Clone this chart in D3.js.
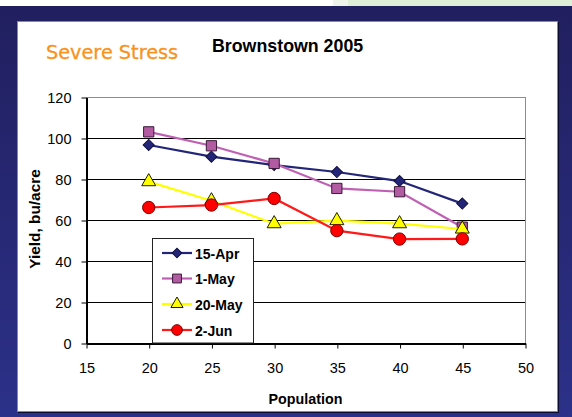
<!DOCTYPE html>
<html><head><meta charset="utf-8">
<script src="https://cdn.jsdelivr.net/npm/d3@7/dist/d3.min.js"></script>
<style>html,body{margin:0;padding:0;background:#fff;}svg{display:block;}</style>
</head><body>
<script>
const populations = [20, 25, 30, 35, 40, 45];
const seriesNames = ["15-Apr", "1-May", "20-May", "2-Jun"];
const apr15 = [96.6, 90.9, 86.8, 83.4, 79.0, 68.0];
const may1 = [103.0, 96.2, 87.6, 75.4, 73.8, 56.5];
const may20 = [78.7, 69.4, 58.2, 59.7, 58.2, 55.6];
const jun2 = [66.1, 67.3, 70.5, 54.8, 50.7, 50.8];
const xTicks = [15, 20, 25, 30, 35, 40, 45, 50];
const yTicks = [0, 20, 40, 60, 80, 100, 120];
const titleText = "Brownstown 2005";
const slideTitle = "Severe Stress";
const xLabel = "Population";
const yLabel = "Yield, bu/acre";

const W = 572, H = 417;
const svg = d3.select("body").append("svg").attr("width", W).attr("height", H);
const defs = svg.append("defs");
const grad = defs.append("linearGradient").attr("id","bg").attr("x1",0).attr("y1",0).attr("x2",0).attr("y2",1);
grad.append("stop").attr("offset","0%").attr("stop-color","#211f5f");
grad.append("stop").attr("offset","100%").attr("stop-color","#2c3189");

// page background
svg.append("rect").attr("x",0).attr("y",0).attr("width",W).attr("height",H).attr("fill","#fff");
svg.append("rect").attr("x",333).attr("y",0).attr("width",15).attr("height",6).attr("fill","#eef4ea");
svg.append("rect").attr("x",348).attr("y",0).attr("width",W-348).attr("height",6).attr("fill","#dfeed6");
svg.append("rect").attr("x",0).attr("y",6).attr("width",W).attr("height",H-6).attr("fill","url(#bg)");
// panel shadow and panel
svg.append("rect").attr("x",18).attr("y",22).attr("width",541).attr("height",391).attr("fill","#0c0c30");
svg.append("rect").attr("x",17.5).attr("y",21.5).attr("width",540).attr("height",390).attr("fill","#fff").attr("stroke","#8a8a8a").attr("stroke-width",1);

svg.append("text").attr("x",46).attr("y",59).attr("fill","#f7931e")
  .attr("font-family","'DejaVu Sans', sans-serif").attr("font-size",19.3).attr("stroke","#f7931e").attr("stroke-width",0.3).text(slideTitle);
svg.append("text").attr("x",212).attr("y",51.5).attr("fill","#000")
  .attr("font-family","'Liberation Sans', Arial, sans-serif").attr("font-weight","bold").attr("font-size",17.8).text(titleText);

const x = d3.scaleLinear().domain([15,50]).range([86,525]);
const y = d3.scaleLinear().domain([0,120]).range([343,97]);

const g = svg.append("g");
// gridlines
g.selectAll(".grid").data(yTicks.filter(v=>v>0 && v<120)).enter().append("line")
  .attr("x1",x(15)).attr("x2",x(50)).attr("y1",d=>y(d)+0.5).attr("y2",d=>y(d)+0.5)
  .attr("stroke","#000").attr("stroke-width",1);
// top & right border gray
g.append("line").attr("x1",x(15)).attr("x2",x(50)).attr("y1",y(120)+0.5).attr("y2",y(120)+0.5).attr("stroke","#8c8c8c");
g.append("line").attr("x1",x(50)+0.5).attr("x2",x(50)+0.5).attr("y1",y(120)).attr("y2",y(0)).attr("stroke","#8c8c8c");

const font = "'Liberation Sans', Arial, sans-serif";
const yAxis = d3.axisLeft(y).tickValues(yTicks).tickSize(5).tickSizeOuter(0).tickPadding(10);
const ya = svg.append("g").attr("transform",`translate(${x(15)+0.5},0.5)`).call(yAxis);
ya.select(".domain").attr("stroke","#000").attr("stroke-width",2);
ya.selectAll(".tick line").attr("stroke","#000");
ya.selectAll(".tick text").attr("font-family",font).attr("font-size",14.5).attr("fill","#000");

const xAxis = d3.axisBottom(x).tickValues(xTicks).tickSize(5).tickSizeOuter(0).tickPadding(14);
const xa = svg.append("g").attr("transform",`translate(0.5,${y(0)+0.5})`).call(xAxis);
xa.select(".domain").attr("stroke","#000").attr("stroke-width",2);
xa.selectAll(".tick line").attr("stroke","#000");
xa.selectAll(".tick text").attr("font-family",font).attr("font-size",14.5).attr("fill","#000");

svg.append("text").attr("x",(x(15)+x(50))/2).attr("y",404).attr("text-anchor","middle")
  .attr("font-family",font).attr("font-weight","bold").attr("font-size",14.3).text(xLabel);
svg.append("text").attr("transform","translate(40,219) rotate(-90) scale(1.1,1)").attr("text-anchor","middle")
  .attr("font-family",font).attr("font-weight","bold").attr("font-size",14).text(yLabel);

const series = [
  {name:seriesNames[0], vals:apr15, line:"#232678", fill:"#232678", stroke:"#111140", shape:d3.symbolSquare, rot:45, size:62},
  {name:seriesNames[1], vals:may1, line:"#c060b4", fill:"#b25aa2", stroke:"#3a1a3a", shape:d3.symbolSquare, rot:0, size:105},
  {name:seriesNames[2], vals:may20, line:"#ffff00", fill:"#ffff00", stroke:"#202000", shape:d3.symbolTriangle, rot:0, size:85},
  {name:seriesNames[3], vals:jun2, line:"#ff1a1a", fill:"#ff0000", stroke:"#7a0000", shape:d3.symbolCircle, rot:0, size:120}
];
const lineGen = d3.line().x(d=>x(d[0])).y(d=>y(d[1]));
series.forEach(s=>{
  const pts = populations.map((p,i)=>[p, s.vals[i]]);
  svg.append("path").attr("d",lineGen(pts)).attr("fill","none").attr("stroke",s.line).attr("stroke-width",2.2);
  svg.selectAll(null).data(pts).enter().append("path")
    .attr("d",d3.symbol().type(s.shape).size(s.size))
    .attr("transform",d=>`translate(${x(d[0])},${y(d[1])}) rotate(${s.rot})`)
    .attr("fill",s.fill).attr("stroke",s.stroke).attr("stroke-width",1);
});

// legend
const lg = svg.append("g");
lg.append("rect").attr("x",152.5).attr("y",238.5).attr("width",101).attr("height",y(0)-238.5)
  .attr("fill","#fff").attr("stroke","#222").attr("stroke-width",1);
const rowsY = [253, 278.5, 304, 330];
series.forEach((s,i)=>{
  const ry = rowsY[i];
  lg.append("line").attr("x1",162).attr("x2",192).attr("y1",ry).attr("y2",ry).attr("stroke",s.line).attr("stroke-width",2.2);
  lg.append("path").attr("d",d3.symbol().type(s.shape).size(s.size*0.75)).attr("transform",`translate(177,${ry}) rotate(${s.rot})`)
    .attr("fill",s.fill).attr("stroke",s.stroke).attr("stroke-width",1);
  lg.append("text").attr("x",195).attr("y",ry+5.5).attr("font-family",font).attr("font-weight","bold")
    .attr("font-size",14).attr("fill","#000").text(s.name);
});
</script>
</body></html>
